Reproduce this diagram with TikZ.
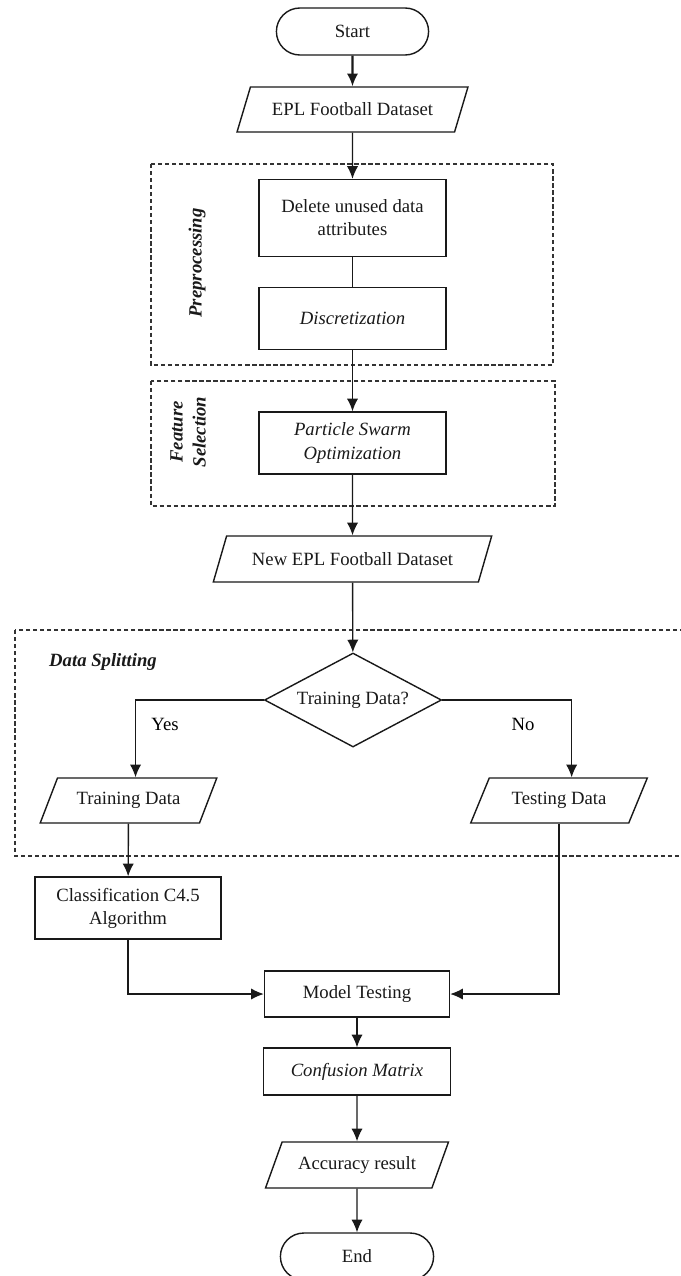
\documentclass[tikz,border=0pt]{standalone}
\usepackage{fontspec}
\setmainfont{Liberation Serif}
\usetikzlibrary{shapes.geometric,shapes.misc,arrows.meta}
\def\px{0.025cm}
\tikzset{
	base/.style={draw=black!90, line width=1pt, inner sep=1pt, align=center, text=black!90, font=\fontsize{13.3}{16.4}\selectfont},
	terminal/.style={base, rounded rectangle, minimum width=155*\px, minimum height=47*\px},
	process/.style={base, rectangle, minimum width=187*\px, minimum height=62*\px},
	io/.style={base, trapezium, trapezium left angle=56, trapezium right angle=124, trapezium stretches=true, minimum height=45*\px},
	decision/.style={base, diamond, aspect=1.88, inner sep=0pt, minimum width=177*\px, minimum height=94*\px},
	group/.style={draw=black!80, line width=0.8pt, dash pattern=on 3pt off 2pt},
	grouplabel/.style={font=\fontsize{13.3}{16.4}\selectfont\bfseries\itshape, align=center, text=black!90},
	flow/.style={draw=black!90, line width=1pt, -{Latex[length=9pt,width=8pt]}},
	link/.style={draw=black!90, line width=1pt}
}
\begin{document}
\begin{tikzpicture}[x=\px, y=-\px]
		%%%%% START %%%%%
		\useasboundingbox (0, 0) rectangle (680, 1276);
		
		% dashed groups
		\draw[group] (151, 164) rectangle (553, 365);
		\draw[group] (151, 381) rectangle (555, 506);
		\draw[group] (15, 630) rectangle (700, 856);
		
		\node[grouplabel, rotate=90] (lblpre) at (197, 263) {Preprocessing};
		\node[grouplabel, rotate=90] (lblfeat) at (188, 432) {Feature\\Selection};
		\node[grouplabel] (lblsplit) at (103, 662) {Data Splitting};
		
		% main column
		\node[terminal] (start) at (352.5, 31.5) {Start};
		\node[io, minimum width=231*\px] (epl) at (352.5, 109.5) {EPL Football Dataset};
		\node[process, minimum height=77*\px] (del) at (352.5, 218) {Delete unused data\\attributes};
		\node[process] (disc) at (352.5, 318.5) {\itshape Discretization};
		\node[process] (pso) at (352.5, 443) {\itshape Particle Swarm\\\itshape Optimization};
		\node[io, minimum width=279*\px, minimum height=46*\px] (newepl) at (352.5, 559) {New EPL Football Dataset};
		\node[decision] (dec) at (353, 700) {Training Data?};
		
		% branches
		\node[io, minimum width=177*\px] (train) at (128.5, 800.5) {Training Data};
		\node[io, minimum width=178*\px] (test) at (559, 800.5) {Testing Data};
		\node[process, minimum width=186*\px] (cls) at (128, 908) {Classification C4.5\\Algorithm};
		\node (yes) at (165, 724) {\fontsize{13.3}{16.4}\selectfont Yes};
		\node (no) at (523, 724) {\fontsize{13.3}{16.4}\selectfont No};
		
		% lower column
		\node[process, minimum width=185*\px, minimum height=46*\px] (model) at (357, 994) {Model Testing};
		\node[process, minimum height=47*\px] (conf) at (357, 1071.5) {\itshape Confusion Matrix};
		\node[io, minimum width=183*\px, minimum height=46*\px] (acc) at (357, 1165) {Accuracy result};
		\node[terminal, minimum width=156*\px] (end) at (357, 1256.5) {End};
		
		% connectors
		\draw[flow, line width=1.5pt] (start) -- (epl);
		\draw[flow] (epl) -- (del);
		\draw[link] (del) -- (disc);
		\draw[flow] (disc) -- (pso);
		\draw[flow] (pso) -- (newepl);
		\draw[flow] (newepl) -- (dec);
		\draw[flow] (dec.west) -| ([xshift=5pt]train.north);
		\draw[flow] (dec.east) -| ([xshift=9pt]test.north);
		\draw[flow] (train) -- (cls);
		\draw[flow] (cls.south) |- (model.west);
		\draw[flow] (test.south) |- (model.east);
		\draw[flow] (model) -- (conf);
		\draw[flow] (conf) -- (acc);
		\draw[flow] (acc) -- (end);
		
		%%%%% END %%%%%
	\end{tikzpicture}
\end{document}
